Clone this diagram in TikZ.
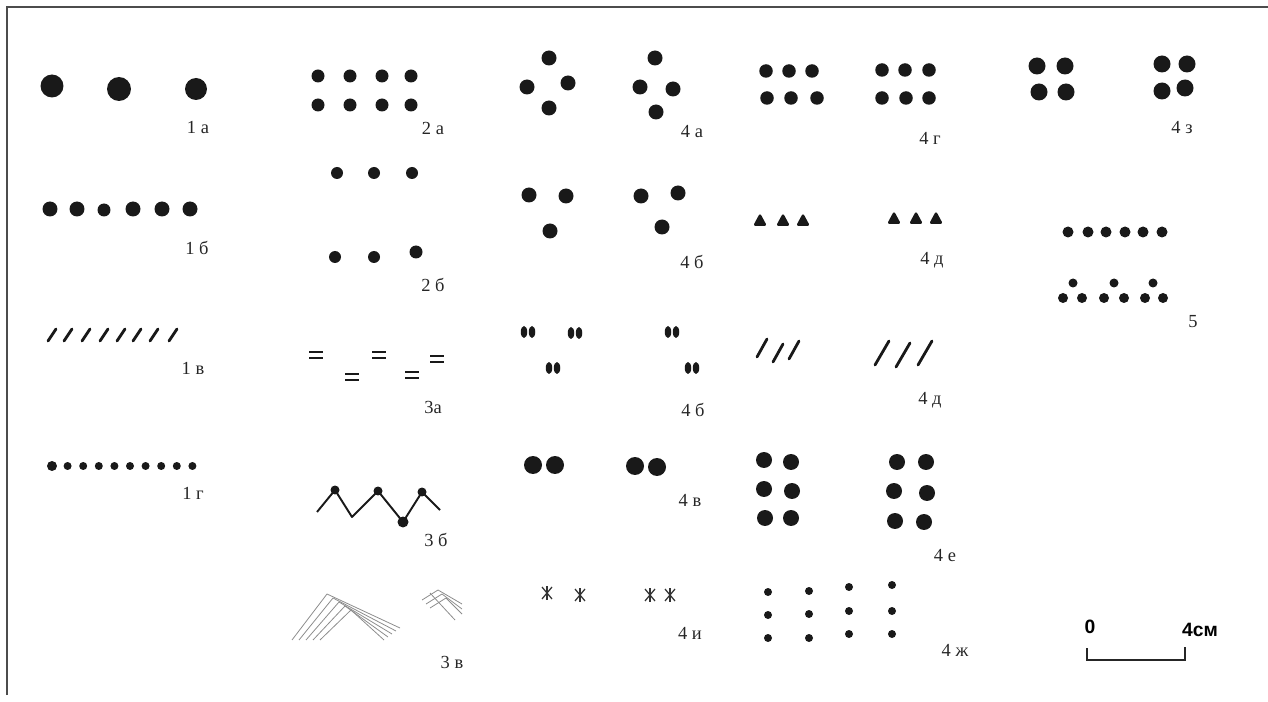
\documentclass[tikz,border=0pt]{standalone}
\usepackage{fontspec}
\setmainfont{Liberation Serif}
\newfontfamily\barfont{Liberation Sans}
\usetikzlibrary{positioning}

\begin{document}
\begin{tikzpicture}[
  x=0.02cm, y=-0.02cm,
  pit/.style={fill=black!90},
  lbl/.style={font=\fontsize{10.5}{12}\selectfont,inner sep=0pt,text=black!85},
  slash/.style={black!90,line cap=round},
  hatch/.style={black!45,line width=0.45pt}
]
  \useasboundingbox (0,0) rectangle (1268,702);
  % frame
  \draw[black!70,line width=0.8pt] (7,695) -- (7,7) -- (1268,7);

  % 1a
  \fill[pit] (52,86) circle (2.3mm) (119,89) circle (2.4mm) (196,89) circle (2.2mm);
  \node[lbl] (lab1a) at (198,128) {1 а};
  % 1b
  \foreach \x in {50,77,133,162,190} \fill[pit] (\x,209) circle (1.5mm);
  \fill[pit] (104,210) circle (1.3mm);
  \node[lbl] (lab1b) at (197,248) {1 б};
  % 1v
  \foreach \x in {52,68,86,104,121,137,154,173}
    \draw[slash,line width=1.6pt] (\x-4,335+6) -- (\x+4,335-6);
  \node[lbl] (lab1v) at (193,368) {1 в};
  % 1g
  \fill[pit] (52,466) circle (1mm);
  \foreach \i in {1,...,9} \fill[pit] (52+15.6*\i,466) circle (0.8mm);
  \node[lbl] (lab1g) at (193,493) {1 г};

  % 2a
  \foreach \x in {318,350,382,411} {
    \fill[pit] (\x,76) circle (1.3mm);
    \fill[pit] (\x,105) circle (1.3mm);
  }
  \node[lbl] (lab2a) at (433,128) {2 а};
  % 2b
  \foreach \x in {337,374,412} \fill[pit] (\x,173) circle (1.2mm);
  \fill[pit] (335,257) circle (1.2mm) (374,257) circle (1.2mm) (416,252) circle (1.3mm);
  \node[lbl] (lab2b) at (433,285) {2 б};

  % 3a
  \foreach \x/\y in {316/355,352/377,379/355,412/375,437/359} {
    \draw[black!90,line width=1.4pt] (\x-7,\y-3) -- (\x+7,\y-3);
    \draw[black!90,line width=1.4pt] (\x-7,\y+3) -- (\x+7,\y+3);
  }
  \node[lbl] (lab3a) at (433,407) {3а};
  % 3b
  \draw[black!90,line width=1.1pt,line join=round]
    (317,512) -- (335,490) -- (352,517) -- (378,491) -- (403,522) -- (422,492) -- (440,510);
  \fill[pit] (335,490) circle (0.9mm) (378,491) circle (0.9mm)
    (403,522) circle (1.1mm) (422,492) circle (0.9mm);
  \node[lbl] (lab3b) at (436,540) {3 б};
  % 3v
  \foreach \i in {0,...,4}
    \draw[hatch] (292+7*\i,640) -- (327+6*\i,594+4*\i) -- (400-4*\i,628+3*\i);
  \foreach \i in {0,1,2}
    \draw[hatch] (422+4*\i,600+4*\i) -- (438+4*\i,590+4*\i) -- (462,604+5*\i);
  \draw[hatch] (430,593) -- (455,620);
  \node[lbl] (lab3v) at (452,662) {3 в};

  % 4a
  \foreach \x/\y in {549/58,527/87,568/83,549/108,655/58,640/87,673/89,656/112}
    \fill[pit] (\x,\y) circle (1.5mm);
  \node[lbl] (lab4a) at (692,132) {4 а};
  % 4b
  \foreach \x/\y in {529/195,566/196,550/231,641/196,678/193,662/227}
    \fill[pit] (\x,\y) circle (1.5mm);
  \node[lbl] (lab4b) at (692,262) {4 б};
  % 4b, paired pits
  \foreach \x/\y in {528/332,575/333,553/368,672/332,692/368} {
    \fill[pit] (\x-4,\y) ellipse (0.65mm and 1.2mm);
    \fill[pit] (\x+4,\y) ellipse (0.65mm and 1.2mm);
  }
  \node[lbl] (lab4bb) at (693,410) {4 б};
  % 4v
  \foreach \x/\y in {533/465,555/465,635/466,657/467}
    \fill[pit] (\x,\y) circle (1.8mm);
  \node[lbl] (lab4v) at (690,500) {4 в};
  % 4i
  \foreach \x/\y in {547/593,580/595,650/595,670/595} {
    \draw[black!80,line width=0.9pt] (\x,\y-7) -- (\x,\y+7);
    \draw[black!80,line width=0.7pt] (\x-5,\y-6) -- (\x+5,\y+6) (\x+5,\y-6) -- (\x-5,\y+6);
  }
  \node[lbl] (lab4i) at (690,633) {4 и};

  % 4g
  \foreach \x/\y in {766/71,789/71,812/71,767/98,791/98,817/98,
                     882/70,905/70,929/70,882/98,906/98,929/98}
    \fill[pit] (\x,\y) circle (1.35mm);
  \node[lbl] (lab4g) at (930,138) {4 г};
  % 4d, triangular pits
  \foreach \x/\y in {760/220,783/220,803/220,894/218,916/218,936/218}
    \fill[pit,rounded corners=1.5pt] (\x-7,\y+6) -- (\x,\y-7) -- (\x+7,\y+6) -- cycle;
  \node[lbl] (lab4d) at (932,260) {4 д};
  % 4d, slashes
  \foreach \x/\y in {762/348,778/353,794/350}
    \draw[slash,line width=1.6pt] (\x-5,\y+9) -- (\x+5,\y-9);
  \foreach \x/\y in {882/353,903/355,925/353}
    \draw[slash,line width=1.6pt] (\x-7,\y+12) -- (\x+7,\y-12);
  \node[lbl] (lab4dd) at (930,400) {4 д};
  % 4e
  \foreach \x/\y in {764/460,791/462,764/489,792/491,765/518,791/518,
                     897/462,926/462,894/491,927/493,895/521,924/522}
    \fill[pit] (\x,\y) circle (1.6mm);
  \node[lbl] (lab4e) at (945,556) {4 е};
  % 4zh
  \foreach \x/\y in {768/592,768/615,768/638,809/591,809/614,809/638,
                     849/587,849/611,849/634,892/585,892/611,892/634}
    \fill[pit] (\x,\y) circle (0.8mm);
  \node[lbl] (lab4zh) at (955,650) {4 ж};

  % 4z
  \foreach \x/\y in {1037/66,1065/66,1039/92,1066/92,1162/64,1187/64,1162/91,1185/88}
    \fill[pit] (\x,\y) circle (1.7mm);
  \node[lbl] (lab4z) at (1182,128) {4 з};
  % 5
  \foreach \x in {1068,1088,1106,1125,1143,1162} \fill[pit] (\x,232) circle (1.1mm);
  \foreach \x in {1073,1114,1153} \fill[pit] (\x,283) circle (0.9mm);
  \foreach \x in {1063,1082,1104,1124,1145,1163} \fill[pit] (\x,298) circle (1mm);
  \node[lbl] (lab5) at (1193,322) {5};

  % scale bar
  \node[font=\barfont\bfseries\fontsize{11}{13}\selectfont,inner sep=0pt] (zero) at (1090,627) {0};
  \node[font=\barfont\bfseries\fontsize{11}{13}\selectfont,inner sep=0pt] (four) at (1200,630) {4см};
  \coordinate (barL) at (1087,660);
  \coordinate (barR) at (1185,660);
  \draw[black!85,line width=0.8pt] ([yshift=0.24cm]barL) -- (barL) -- (barR) -- ([yshift=0.26cm]barR);
\end{tikzpicture}
\end{document}
